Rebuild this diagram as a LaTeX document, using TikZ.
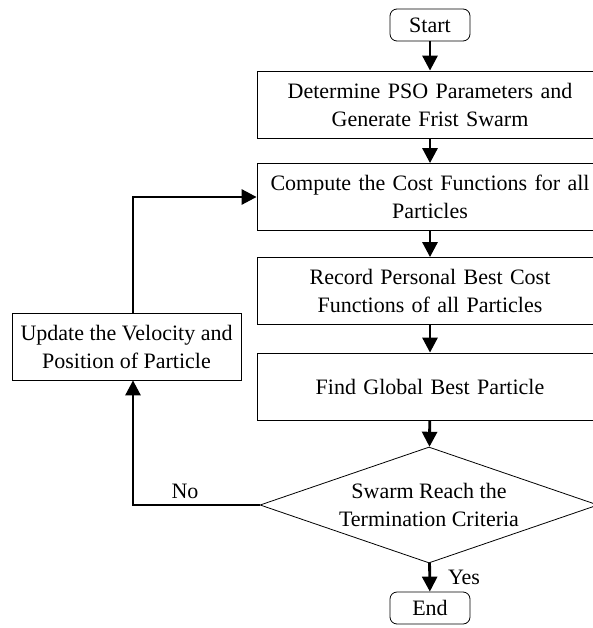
\documentclass[tikz,border=0pt]{standalone}
\usepackage{fontspec}
\setmainfont{Liberation Serif}
\usetikzlibrary{arrows.meta}
\usetikzlibrary{shapes.geometric}

\begin{document}
\begin{tikzpicture}[line join=miter,>={Triangle[length=15pt,width=15pt]},x=1pt,y=-1pt,
  every node/.style={font=\fontsize{22}{28}\selectfont},
  box/.style={draw,line width=0.8pt,minimum width=346pt,minimum height=67pt,text width=330pt,align=center,inner sep=0pt},
  term/.style={draw,line width=0.8pt,rounded corners=7pt,minimum width=80pt,minimum height=32pt,inner sep=0pt},
  decision/.style={draw,diamond,line width=0.8pt,minimum width=338pt,minimum height=116pt,aspect=2.9,inner sep=0pt,align=center},
  flow/.style={->,line width=2.8pt}]
\useasboundingbox (0,0) rectangle (593,628);
%main column
\node [term] (start) at (430,25) {Start};
\node [box] (param) at (430,104.5) {Determine PSO Parameters and\\Generate Frist Swarm};
\node [box] (cost) at (430,197) {Compute the Cost Functions for all\\Particles};
\node [box] (pbest) at (430,291) {Record Personal Best Cost\\Functions of all Particles};
\node [box] (gbest) at (430,386.5) {Find Global Best Particle};
\node [decision] (crit) at (429,505) {Swarm Reach the\\Termination Criteria};
\node [term] (end) at (430,608) {End};
%update box on the left
\node [draw,line width=0.8pt,minimum width=229pt,minimum height=67pt,align=center,inner sep=0pt] (update) at (126.5,346.5) {Update the Velocity and\\Position of Particle};

\draw [flow] (start) -- (param);
\draw [flow] (param) -- (cost);
\draw [flow] (cost) -- (pbest);
\draw [flow] (pbest) -- (gbest);
\draw [flow] (gbest) -- (crit);
\draw [flow] (crit) -- (end);
\node at (464,577) {Yes};
%loop back
\coordinate (turn) at (133,505);
\draw [flow] (crit.west) -- (turn) -- (turn |- update.south);
\draw [flow] (turn |- update.north) |- (cost.west);
\node at (185,491) {No};
\end{tikzpicture}
\end{document}
